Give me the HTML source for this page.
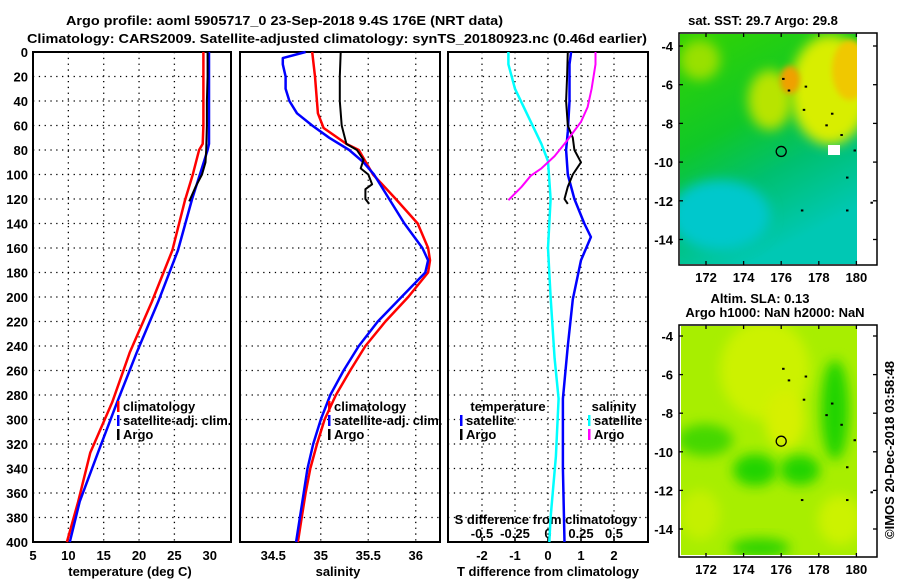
<!DOCTYPE html>
<html><head><meta charset="utf-8"><style>
body{margin:0;background:#fff;}
svg text{font-family:"Liberation Sans",sans-serif;font-weight:bold;font-size:13px;fill:#000;}
</style></head><body>
<svg id="c" width="900" height="580" xmlns="http://www.w3.org/2000/svg">
<defs>
<linearGradient id="sstg" x1="0" y1="0" x2="0.4" y2="1">
<stop offset="0" stop-color="#33d400"/><stop offset="0.45" stop-color="#10c828"/><stop offset="0.7" stop-color="#00c070"/><stop offset="1" stop-color="#00c8b4"/>
</linearGradient>
<filter id="bl" x="-50%" y="-50%" width="200%" height="200%"><feGaussianBlur stdDeviation="6"/></filter>
<filter id="bl2" x="-50%" y="-50%" width="200%" height="200%"><feGaussianBlur stdDeviation="3"/></filter>
<clipPath id="cm1"><rect x="680" y="34" width="177" height="230"/></clipPath>
<clipPath id="cm2"><rect x="681" y="326" width="176" height="229"/></clipPath>
</defs>
<g id="plots"></g>
</svg>
<script>
// ---- data ----
const depthTicks=[0,20,40,60,80,100,120,140,160,180,200,220,240,260,280,300,320,340,360,380,400];
const tempTicks=[5,10,15,20,25,30];
const salTicks=[34.5,35,35.5,36];
const tdiffTicks=[-2,-1,0,1,2];
const sdiffTicks=[-0.5,-0.25,0,0.25,0.5];
const sdiffLabels=["-0.5","-0.25","0","0.25","0.5"];
const lonTicks=[172,174,176,178,180];
const latTicks=[-4,-6,-8,-10,-12,-14];
const latLabels=["-4","-6","-8","-10","-12","-14"];

const tClimDepth=[0,20,40,60,75,80,100,121,162,204,245,286,327,367,400];
const tClimVal=[29.1,29.1,29.1,29.1,29.0,28.5,27.6,26.5,24.7,21.8,18.7,16.2,13.1,11.4,9.8];
const tSatDepth=[0,20,40,60,75,80,100,120,162,204,245,286,327,367,400];
const tSatVal=[29.9,29.9,29.9,29.9,29.9,29.7,28.6,27.5,25.5,22.7,19.7,16.9,14.2,11.6,10.2];
const tArgoDepth=[0,20,40,60,80,90,100,110,122];
const tArgoVal=[29.7,29.7,29.6,29.6,29.5,29.4,28.9,28.0,27.1];

const sClimDepth=[0,20,50,62,75,80,100,120,140,160,170,180,200,220,240,260,280,300,320,340,360,380,400];
const sClimVal=[34.91,34.94,34.97,35.03,35.27,35.4,35.55,35.79,36.02,36.13,36.15,36.13,35.92,35.68,35.47,35.31,35.16,35.04,34.96,34.89,34.84,34.8,34.76];
const sSatDepth=[0,5,10,20,30,40,50,60,70,80,90,100,120,140,160,170,180,200,220,240,260,280,300,320,340,360,380,400];
const sSatVal=[34.84,34.6,34.6,34.63,34.63,34.67,34.75,34.91,35.09,35.3,35.45,35.56,35.72,35.88,36.07,36.13,36.1,35.85,35.6,35.4,35.24,35.1,35.0,34.92,34.86,34.82,34.78,34.74];
const sArgoDepth=[0,20,40,60,75,80,88,95,100,108,112,120,124];
const sArgoVal=[35.21,35.2,35.2,35.22,35.27,35.38,35.45,35.42,35.5,35.54,35.47,35.47,35.51];

const dTSatDepth=[0,10,40,65,80,100,120,140,151,170,202,240,283,340,400];
const dTSatVal=[0.7,0.65,0.65,0.6,0.55,0.6,0.8,1.1,1.3,1.0,0.75,0.6,0.45,0.45,0.5];
const dTArgoDepth=[0,20,40,60,70,80,90,100,110,120,124];
const dTArgoVal=[0.6,0.58,0.55,0.6,0.75,0.8,1.0,0.75,0.6,0.5,0.6];
const dSSatDepth=[0,10,30,57,75,89,120,160,200,250,283,330,380,400];
const dSSatVal=[-0.3,-0.3,-0.25,-0.13,-0.05,0.0,0.02,0.0,0.02,0.05,0.08,0.06,0.02,0.01];
const dSArgoDepth=[0,10,30,45,57,73,85,95,101,110,121];
const dSArgoVal=[0.36,0.36,0.33,0.3,0.25,0.14,0.05,-0.05,-0.13,-0.2,-0.3];

const mapDotLon=[176.1,176.4,177.3,177.2,178.7,178.4,179.2,179.9,179.5,177.1,180.8,179.5];
const mapDotLat=[-5.7,-6.3,-6.1,-7.3,-7.5,-8.1,-8.6,-9.4,-10.8,-12.5,-12.1,-12.5];
const argoLon=176, argoLat=-9.45;

// ---- helpers ----
const NS="http://www.w3.org/2000/svg";
const G=document.getElementById('plots');
function mk(tag,attrs,parent){const e=document.createElementNS(NS,tag);for(const k in attrs)e.setAttribute(k,attrs[k]);(parent||G).appendChild(e);return e;}
const yTop=52,yBot=542;
const yD=d=>yTop+(d/400)*(yBot-yTop);
const xT=v=>33+(v-5)*7.07;
const xS=v=>240+(v-34.15)*95;
const xDT=v=>548+v*33;
const xDS=v=>548+v*132;

function frame(x0,x1,name,gridX){
  const g=mk('g',{});
  
  
  depthTicks.forEach(d=>{if(d>0&&d<400){const l=mk('line',{x1:x0,x2:x1,y1:yD(d),y2:yD(d),stroke:'#000','stroke-width':1.3,'stroke-dasharray':'1.3 4.5'},g);}});
  gridX.forEach(x=>{const l=mk('line',{x1:x,x2:x,y1:yTop,y2:yBot,stroke:'#000','stroke-width':1.3,'stroke-dasharray':'1.3 4.5'},g);});
  const r=mk('rect',{x:x0,y:yTop,width:x1-x0,height:yBot-yTop,fill:'none',stroke:'#000','stroke-width':2},g);
  
  return g;
}
function line(xs,ds,xf,color,w,name){
  const pts=xs.map((v,i)=>xf(v).toFixed(1)+','+yD(ds[i]).toFixed(1)).join(' ');
  const p=mk('polyline',{points:pts,fill:'none',stroke:color,'stroke-width':w,'stroke-linejoin':'round'});
  
}
function text(x,y,s,anchor,name,extra){
  const t=mk('text',Object.assign({x:x,y:y,'text-anchor':anchor||'middle'},extra||{}));
  t.textContent=s;return t;
}
function legend(x,y,items,name){
  const g=mk('g',{});
  items.forEach((it,i)=>{
    const yy=y+i*14;
    const m=mk('rect',{x:x,y:yy-10,width:2.5,height:11,fill:it[1]},g);
    const t=mk('text',{x:x+6,y:yy},g);t.textContent=it[0];
  });
}

// ---- titles ----
text(66,25,'Argo profile: aoml 5905717_0 23-Sep-2018 9.4S 176E (NRT data)','start','title-line-1',{'font-size':'15px',textLength:437,lengthAdjust:'spacingAndGlyphs'});
text(27,43,'Climatology: CARS2009. Satellite-adjusted climatology: synTS_20180923.nc (0.46d earlier)','start','title-line-2',{'font-size':'15px',textLength:620,lengthAdjust:'spacingAndGlyphs'});

// ---- panel 1: temperature ----
frame(33,231,'temperature-axes',[10,15,20,25].map(xT));
depthTicks.forEach(d=>{text(28,yD(d)+5,String(d),'end','depth-tick-label');});
tempTicks.forEach(v=>{text(xT(v),560,String(v),'middle','temperature-tick-label');});
text(130,576,'temperature (deg C)','middle','x-axis-title-temperature');
line(tClimVal,tClimDepth,xT,'#ff0000',2.5,'temperature-climatology-line');
line(tSatVal,tSatDepth,xT,'#0000ff',2.5,'temperature-satellite-line');
line(tArgoVal,tArgoDepth,xT,'#000000',2,'temperature-argo-line');
legend(117,411,[['climatology','#ff0000'],['satellite-adj. clim.','#0000ff'],['Argo','#000']],'temperature-legend');

// ---- panel 2: salinity ----
frame(240,440,'salinity-axes',[35,35.5,36].map(xS));
salTicks.forEach(v=>{text(xS(v),560,String(v),'middle','salinity-tick-label');});
text(338,576,'salinity','middle','x-axis-title-salinity');
line(sClimVal,sClimDepth,xS,'#ff0000',2.5,'salinity-climatology-line');
line(sSatVal,sSatDepth,xS,'#0000ff',2.5,'salinity-satellite-line');
line(sArgoVal,sArgoDepth,xS,'#000000',2,'salinity-argo-line');
legend(328,411,[['climatology','#ff0000'],['satellite-adj. clim.','#0000ff'],['Argo','#000']],'salinity-legend');

// ---- panel 3: differences ----
frame(448,648,'difference-axes',[-2,-1,0,1,2].map(xDT));
tdiffTicks.forEach(v=>{text(xDT(v),560,String(v),'middle','t-diff-tick-label');});
sdiffTicks.forEach((v,i)=>{text(xDS(v),538,sdiffLabels[i],'middle','s-diff-tick-label');
  const tk=mk('line',{x1:xDS(v),x2:xDS(v),y1:yBot,y2:yBot-5,stroke:'#000','stroke-width':1.5});});
text(546,524,'S difference from climatology','middle','s-diff-axis-title');
text(548,576,'T difference from climatology','middle','t-diff-axis-title');
line(dSSatVal,dSSatDepth,xDS,'#00ffff',2.5,'salinity-diff-satellite-line');
line(dTSatVal,dTSatDepth,xDT,'#0000ff',2.5,'temperature-diff-satellite-line');
line(dTArgoVal,dTArgoDepth,xDT,'#000000',2,'temperature-diff-argo-line');
line(dSArgoVal,dSArgoDepth,xDS,'#ff00ff',2,'salinity-diff-argo-line');
text(508,411,'temperature','middle','diff-legend-temperature-header');
legend(460,425,[['satellite','#0000ff'],['Argo','#000']],'diff-legend-temperature');
text(614,411,'salinity','middle','diff-legend-salinity-header');
legend(588,425,[['satellite','#00ffff'],['Argo','#ff00ff']],'diff-legend-salinity');

// ---- maps ----
function mapAxes(y0,y1,latY,name,title1,title2,bg){
  const g=mk('g',{});
  bg(g);
  const lonX=v=>706+(v-172)*18.8;
  const latYf=v=>latY[0]+(-4-v)*latY[1];
  mapDotLon.forEach((lo,i)=>{const d=mk('rect',{x:lonX(lo)-1,y:latYf(mapDotLat[i])-1,width:2.5,height:2,fill:'#000'},g);});
  const c=mk('circle',{cx:lonX(argoLon),cy:latYf(argoLat),r:5,fill:'none',stroke:'#000','stroke-width':1.3},g);
  
  const r=mk('rect',{x:679,y:y0,width:198,height:y1-y0,fill:'none',stroke:'#000','stroke-width':1.5},g);
  
  lonTicks.forEach(v=>{
    mk('line',{x1:lonX(v),x2:lonX(v),y1:y1,y2:y1-4,stroke:'#000','stroke-width':1.3},g);
    mk('line',{x1:lonX(v),x2:lonX(v),y1:y0,y2:y0+4,stroke:'#000','stroke-width':1.3},g);
    text(lonX(v),y1+17,String(v),'middle','longitude-tick-label');
  });
  latTicks.forEach((v,i)=>{
    mk('line',{x1:679,x2:683,y1:latYf(v),y2:latYf(v),stroke:'#000','stroke-width':1.3},g);
    mk('line',{x1:877,x2:873,y1:latYf(v),y2:latYf(v),stroke:'#000','stroke-width':1.3},g);
    text(673,latYf(v)+5,latLabels[i],'end','latitude-tick-label');
  });
  if(title2){text(760,y0-22,title1,'middle','map-title');text(775,y0-8,title2,'middle','map-subtitle');}
  else text(763,y0-8,title1,'middle','map-title');
}
mapAxes(33,265,[46,19.35],'sst-map','sat. SST: 29.7 Argo: 29.8',null,g=>{
  const cg=mk('g',{'clip-path':'url(#cm1)'},g);
  mk('rect',{x:680,y:34,width:177,height:230,fill:'url(#sstg)'},cg);
  mk('ellipse',{cx:830,cy:90,rx:40,ry:55,fill:'#d8ee00',filter:'url(#bl)'},cg);
  mk('ellipse',{cx:850,cy:70,rx:18,ry:30,fill:'#f0c800',filter:'url(#bl2)'},cg);
  mk('ellipse',{cx:770,cy:100,rx:22,ry:30,fill:'#b8e400',filter:'url(#bl)'},cg);
  mk('ellipse',{cx:790,cy:80,rx:10,ry:14,fill:'#f0a000',filter:'url(#bl2)'},cg);
  mk('ellipse',{cx:700,cy:60,rx:20,ry:20,fill:'#99e000',filter:'url(#bl)'},cg);
  mk('ellipse',{cx:720,cy:215,rx:50,ry:35,fill:'#00c8cc',filter:'url(#bl)'},cg);
  mk('rect',{x:828,y:145,width:12,height:10,fill:'#fff'},cg);
});
mapAxes(325,557,[336,19.3],'sla-map','Altim. SLA: 0.13','Argo h1000: NaN h2000: NaN',g=>{
  const cg=mk('g',{'clip-path':'url(#cm2)'},g);
  mk('rect',{x:681,y:326,width:176,height:229,fill:'#a8ee00'},cg);
  mk('ellipse',{cx:765,cy:370,rx:45,ry:50,fill:'#ccf200',filter:'url(#bl)'},cg);
  mk('ellipse',{cx:785,cy:420,rx:20,ry:30,fill:'#d6f000',filter:'url(#bl)'},cg);
  mk('ellipse',{cx:835,cy:410,rx:14,ry:50,fill:'#22d400',filter:'url(#bl)'},cg);
  mk('ellipse',{cx:705,cy:440,rx:28,ry:16,fill:'#44d800',filter:'url(#bl)'},cg);
  mk('ellipse',{cx:755,cy:470,rx:22,ry:16,fill:'#22d400',filter:'url(#bl)'},cg);
  mk('ellipse',{cx:800,cy:470,rx:20,ry:15,fill:'#22d400',filter:'url(#bl)'},cg);
  mk('ellipse',{cx:760,cy:548,rx:30,ry:10,fill:'#33d400',filter:'url(#bl)'},cg);
  mk('ellipse',{cx:840,cy:520,rx:22,ry:25,fill:'#ccf200',filter:'url(#bl)'},cg);
  mk('ellipse',{cx:700,cy:515,rx:20,ry:25,fill:'#c4f000',filter:'url(#bl)'},cg);
});
text(0,0,'©IMOS 20-Dec-2018 03:58:48','middle','copyright-timestamp',{transform:'translate(894,450) rotate(-90)','font-weight':'normal'});
</script>
</body></html>
